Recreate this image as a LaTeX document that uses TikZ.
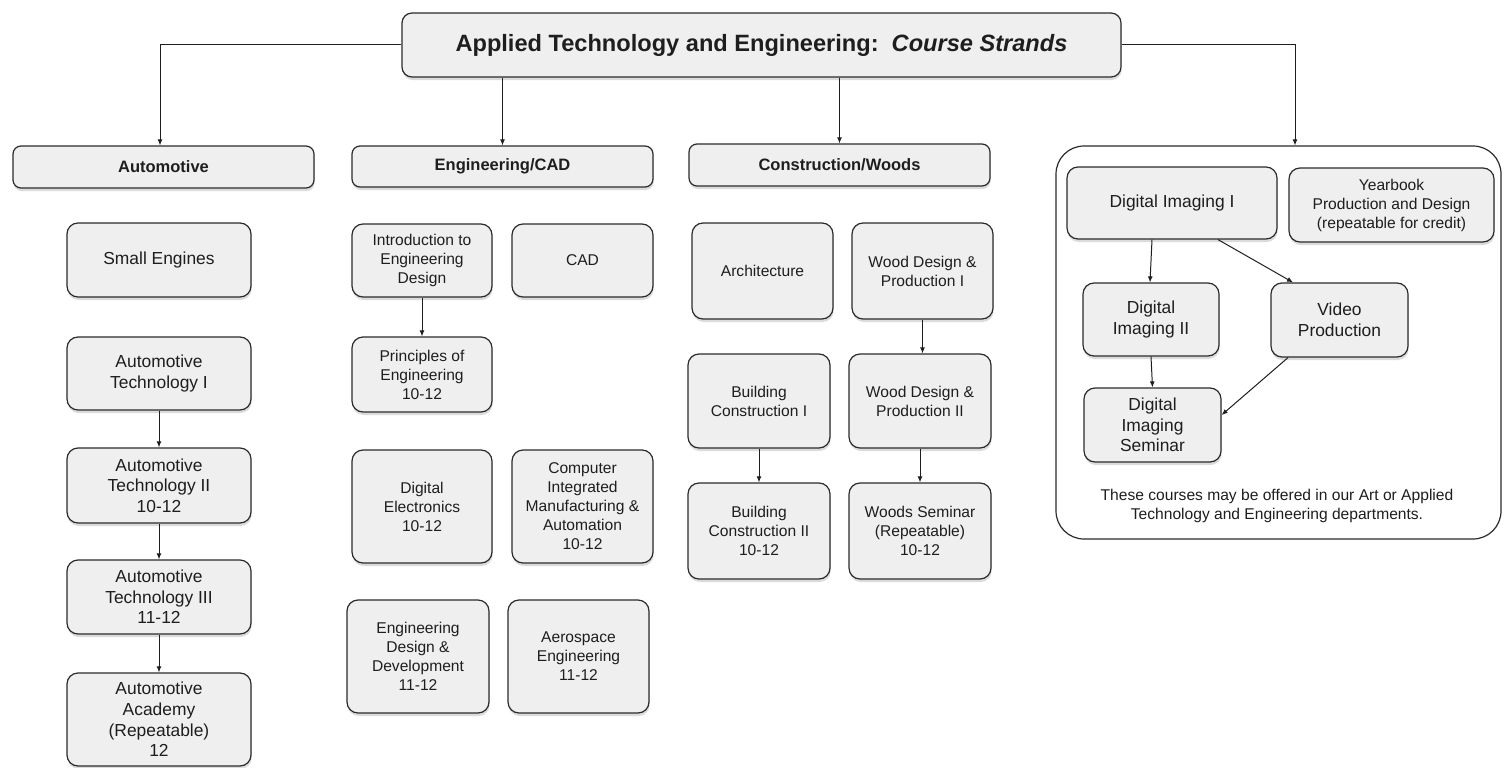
\documentclass[tikz,border=0pt]{standalone}
\usepackage{fontspec}
\setmainfont{Liberation Sans}
\usetikzlibrary{arrows.meta,shadows}
\definecolor{boxfill}{HTML}{EFEFEF}
\definecolor{boxline}{HTML}{2B2B2B}
\definecolor{txt}{HTML}{1E1E1E}
\newcommand\bx[7][]{%
  \node[#1, minimum width={(#4)-(#2)}, minimum height={(#5)-(#3)}] (#6) at ({((#2)+(#4))/2},{((#3)+(#5))/2}) {#7};}
\tikzset{
  base/.style={draw=boxline, line width=1.2pt, fill=boxfill, text=txt, align=center, inner sep=2pt,
    drop shadow={shadow xshift=0.6pt, shadow yshift=-3pt, opacity=0.28}},
  course/.style={base, rounded corners=11pt, font=\fontsize{15.6}{19}\selectfont},
  bigcourse/.style={base, rounded corners=11pt, font=\fontsize{17.4}{20.6}\selectfont},
  hdr/.style={base, rounded corners=8pt, font=\fontsize{16.5}{20}\selectfont\bfseries},
  titlebox/.style={base, rounded corners=10pt, font=\fontsize{23.6}{28}\selectfont\bfseries},
  container/.style={draw=boxline, line width=1.2pt, fill=white, rounded corners=28pt},
  arr/.style={-{Latex[length=6pt,width=5pt]}, line width=1pt, draw=txt},
}
\begin{document}
\begin{tikzpicture}[x=1pt,y=-1pt]
\useasboundingbox[fill=white] (0,0) rectangle (1504,768);

% title and headers
\bx[titlebox]{402}{13}{1121}{77}{title}{Applied Technology and Engineering:\ \ \textit{Course Strands}}
\bx[hdr]{13}{146}{314}{188}{auto}{Automotive}
\bx[hdr]{352}{146}{653}{187}{eng}{Engineering/CAD}
\bx[hdr]{689}{144}{990}{186}{cons}{Construction/Woods}
\bx[container]{1056}{146}{1501}{539}{cont}{}

% Automotive
\bx[bigcourse]{67}{223}{251}{297}{se}{Small Engines}
\bx[bigcourse]{67}{337}{251}{410}{at1}{Automotive\\Technology I}
\bx[bigcourse]{67}{448}{251}{523}{at2}{Automotive\\Technology II\\10-12}
\bx[bigcourse]{67}{560}{251}{634}{at3}{Automotive\\Technology III\\11-12}
\bx[bigcourse]{67}{673}{251}{766}{aca}{Automotive\\Academy\\(Repeatable)\\12}

% Engineering/CAD
\bx[course]{352}{224}{492}{297}{intro}{Introduction to\\Engineering\\Design}
\bx[course]{512}{224}{653}{297}{cad}{CAD}
\bx[course]{352}{337}{492}{412}{poe}{Principles of\\Engineering\\10-12}
\bx[course]{352}{450}{492}{563}{de}{Digital\\Electronics\\10-12}
\bx[course]{512}{450}{653}{563}{cim}{Computer\\Integrated\\Manufacturing \&\\Automation\\10-12}
\bx[course]{347}{600}{489}{713}{edd}{Engineering\\Design \&\\Development\\11-12}
\bx[course]{508}{600}{649}{713}{aero}{Aerospace\\Engineering\\11-12}

% Construction/Woods
\bx[course]{692}{223}{833}{319}{arch}{Architecture}
\bx[course]{852}{223}{993}{319}{wd1}{Wood Design \&\\Production I}
\bx[course]{688}{354}{830}{448}{bc1}{Building\\Construction I}
\bx[course]{849}{354}{991}{448}{wd2}{Wood Design \&\\Production II}
\bx[course]{688}{483}{830}{579}{bc2}{Building\\Construction II\\10-12}
\bx[course]{849}{483}{991}{579}{ws}{Woods Seminar\\(Repeatable)\\10-12}

% Digital media group
\bx[bigcourse]{1067}{167}{1277}{239}{di1}{Digital Imaging I}
\bx[course]{1289}{168}{1494}{242}{yb}{Yearbook\\Production and Design\\(repeatable for credit)}
\bx[bigcourse]{1083}{283}{1219}{356}{di2}{Digital\\Imaging II}
\bx[bigcourse]{1271}{283}{1408}{357}{vp}{Video\\Production}
\bx[bigcourse]{1084}{388}{1221}{462}{dis}{Digital\\Imaging\\Seminar}
\node[text=txt, align=center, font=\fontsize{15.6}{19}\selectfont] (note) at (1277,506)
  {These courses may be offered in our Art or Applied\\Technology and Engineering departments.};

% connectors from title
\draw[arr] (title.west) -| ([xshift=-3.5pt]auto.north);
\draw[arr] (title.south -| eng.north) -- (eng.north);
\draw[arr] (title.south -| cons.north) -- (cons.north);
\draw[arr] (title.east) -| ([xshift=16.5pt]cont.north);

% course sequences
\draw[arr] (at1) -- (at2);
\draw[arr] (at2) -- (at3);
\draw[arr] (at3) -- (aca);
\draw[arr] (intro) -- (poe);
\draw[arr] (wd1.south) -- (wd1.south |- wd2.north);
\draw[arr] (bc1) -- (bc2);
\draw[arr] (wd2) -- (ws);
\draw[arr] ([xshift=-20pt]di1.south) -- ([xshift=-1pt]di2.north);
\draw[arr] ([xshift=46pt]di1.south) -- ([xshift=-46.5pt]vp.north);
\draw[arr] (di2.south) -- (dis.north);
\draw[arr] ([xshift=-51.5pt]vp.south) -- ([yshift=10pt]dis.east);
\end{tikzpicture}
\end{document}
